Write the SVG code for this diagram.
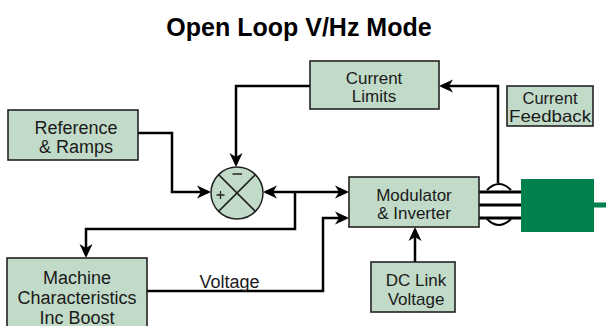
<svg xmlns="http://www.w3.org/2000/svg" width="606" height="326" viewBox="0 0 606 326">
<style>
.box{fill:#c2dbc9;stroke:#222;stroke-width:1.6}
.t{font-family:"Liberation Sans",Arial,sans-serif;font-size:18px;fill:#1a1a1a;text-anchor:middle}
.s{font-size:17px}
.title{font-family:"Liberation Sans",Arial,sans-serif;font-size:25px;font-weight:bold;fill:#000;text-anchor:middle}
.w{fill:none;stroke:#000;stroke-width:2.5}
.arr{marker-end:url(#ah)}
</style>
<defs>
<marker id="ah" viewBox="-15 -8 16 16" refX="-3" refY="0" markerWidth="16" markerHeight="16" markerUnits="userSpaceOnUse" orient="auto-start-reverse">
<path d="M0,0 L-14,-6.5 L-10,0 L-14,6.5 Z" fill="#000"/>
</marker>
</defs>
<rect width="606" height="326" fill="#fff"/>
<text class="title" x="299" y="36">Open Loop V/Hz Mode</text>

<g id="connectors">
<path class="w arr" d="M310,86 H236 V164"/>
<path class="w arr" d="M138,133 H172 V192 H208"/>
<path class="w" d="M266,192 H346" marker-start="url(#ah)" marker-end="url(#ah)"/>
<path class="w arr" d="M295,192 V229 H86 V255"/>
<path class="w arr" d="M147,291 H323 V218 H346"/>
<path class="w arr" d="M415,262 V230"/>
<path class="w arr" d="M498,183 V86 H442"/>
<path fill="none" stroke="#000" stroke-width="3" d="M479,192 H521 M479,205 H521 M479,218 H521"/>
<path fill="none" stroke="#000" stroke-width="2" d="M487,190 Q499,178 511,190 M487,219 Q499,231 511,219"/>
</g>

<g id="current-limits">
<rect class="box" x="310" y="61" width="129" height="48"/>
<text class="t s" x="374" y="84">Current</text>
<text class="t s" x="374" y="102">Limits</text>
</g>

<g id="current-feedback">
<rect class="box" x="507" y="86" width="86" height="40"/>
<text class="t" x="550" y="104" style="font-size:16.5px">Current</text>
<text class="t" x="550" y="121.5" style="font-size:16.5px" textLength="82" lengthAdjust="spacingAndGlyphs">Feedback</text>
</g>

<g id="reference-ramps">
<rect class="box" x="8" y="110" width="130" height="50"/>
<text class="t" x="76" y="134">Reference</text>
<text class="t" x="76" y="152.5">&amp; Ramps</text>
</g>

<g id="summing-junction">
<circle cx="237" cy="193" r="26" fill="#c2dbc9" stroke="#222" stroke-width="1.5"/>
<path d="M218.6,174.6 L255.4,211.4 M255.4,174.6 L218.6,211.4" stroke="#222" stroke-width="1.5"/>
<path d="M232.5,174 H242" stroke="#222" stroke-width="1.5"/>
<path d="M216.5,195 H224.5 M220.5,191 V199" stroke="#222" stroke-width="1.3"/>
</g>

<g id="modulator-inverter">
<rect class="box" x="349" y="177" width="130" height="50"/>
<text class="t s" x="414" y="201">Modulator</text>
<text class="t s" x="414" y="219">&amp; Inverter</text>
</g>

<g id="dc-link-voltage">
<rect class="box" x="371" y="262" width="84" height="50"/>
<text class="t s" x="416" y="286">DC Link</text>
<text class="t s" x="416" y="304.5">Voltage</text>
</g>

<g id="machine-characteristics">
<rect class="box" x="7" y="258" width="140" height="72"/>
<text class="t" x="77" y="284">Machine</text>
<text class="t" x="77" y="304">Characteristics</text>
<text class="t" x="77" y="323.5">Inc Boost</text>
</g>

<text class="t" x="229.5" y="288">Voltage</text>

<g id="motor">
<rect x="521" y="179" width="73" height="53" fill="#00804a"/>
<rect x="594" y="202.5" width="12" height="5" fill="#00804a"/>
</g>
</svg>
